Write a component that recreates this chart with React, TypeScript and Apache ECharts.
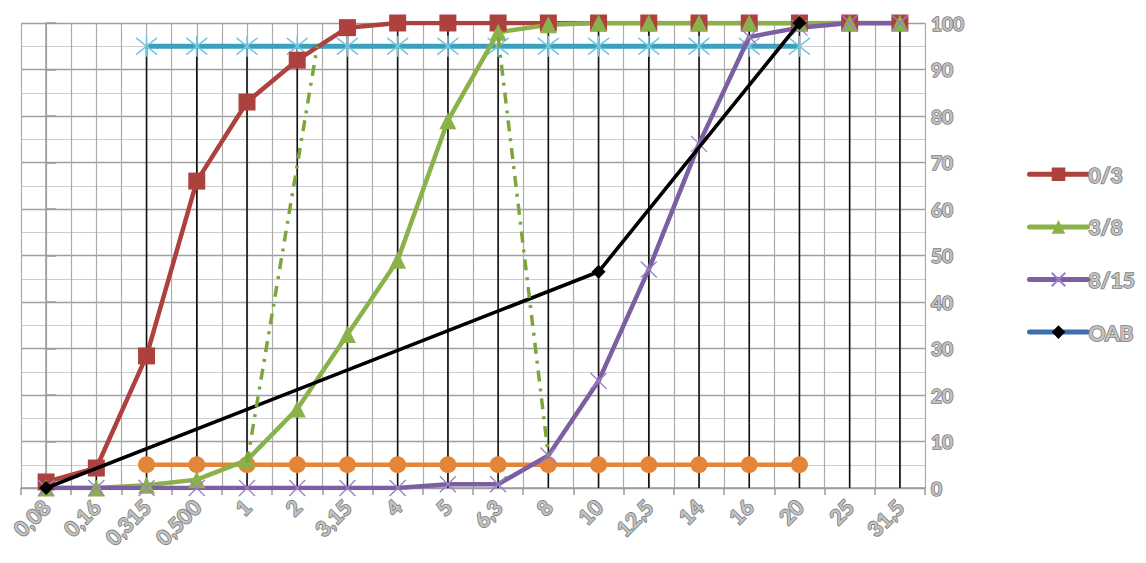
import React, { useEffect, useRef } from 'react';
import * as echarts from 'echarts';

const categories = ['0,08', '0,16', '0,315', '0,500', '1', '2', '3,15', '4', '5', '6,3', '8', '10', '12,5', '14', '16', '20', '25', '31,5'];
const s03 = [1.3, 4.3, 28.4, 66, 83, 92, 99, 100, 100, 100, 100, 100, 100, 100, 100, 100, 100, 100];
const s38 = [0, 0, 0.6, 1.8, 6, 17, 33, 49, 79, 98, 99.6, 100, 100, 100, 100, 100, 100, 100];
const s815 = [0, 0, 0, 0, 0, 0, 0, 0, 0.8, 0.8, 7, 23, 47, 74, 97, 99, 100, 100];
const oab = [0, null, null, null, null, null, null, null, null, null, null, 46.5, null, null, null, 100, null, null];
const upper95 = [null, null, 95, 95, 95, 95, 95, 95, 95, 95, 95, 95, 95, 95, 95, 95, null, null];
const lower5 = [null, null, 5, 5, 5, 5, 5, 5, 5, 5, 5, 5, 5, 5, 5, 5, null, null];
const envA = [[4, 5.5], [5.4, 95]];
const envB = [[9, 97], [10, 7]];

const FONT = 'Lato, "Open Sans", sans-serif';
const txt = {
  color: '#c2c2c2',
  textBorderColor: '#7a7a7a',
  textBorderWidth: 1.6,
  fontFamily: FONT,
  fontWeight: 'bold' as const,
};

export default function App() {
  const ref = useRef<HTMLDivElement>(null);
  useEffect(() => {
    if (!ref.current) return;
    const chart = echarts.init(ref.current, null, { renderer: 'svg' });
    const seriesMax = categories.map((_, i) => {
      const vals = [s03[i], s38[i], s815[i], oab[i], upper95[i], lower5[i]].filter((v) => v != null) as number[];
      return Math.max(...vals);
    });
    const xSym = 'path://M0,0L20,20M20,0L0,20';
    const starSym = 'path://M0,2L20,18M20,2L0,18M10,0L10,20';
    chart.setOption({
      animation: false,
      grid: { left: 21, top: 23, width: 904, height: 465, containLabel: false },
      legend: {
        orient: 'vertical',
        left: 1022,
        top: 158,
        itemWidth: 58,
        itemHeight: 17,
        itemGap: 30,
        lineStyle: { width: 5, cap: 'round' },
        textStyle: { ...txt, fontSize: 21, padding: [0, 0, 0, -4] },
        data: [
          { name: '0/3' },
          { name: '3/8' },
          { name: '8/15' },
          { name: 'OAB', itemStyle: { color: '#000000' }, lineStyle: { color: '#3d6fb0', width: 5 } },
        ],
      },
      xAxis: [
        {
          type: 'category',
          data: categories,
          boundaryGap: true,
          axisLine: { lineStyle: { color: '#9a9a9a', width: 1.5 } },
          axisTick: { show: true, length: 7, lineStyle: { color: '#9a9a9a', width: 1.5 } },
          axisLabel: { ...txt, fontSize: 21, rotate: 45, margin: 15, interval: 0 },
          splitLine: { show: false },
        },
        {
          type: 'value',
          position: 'top',
          min: -0.5,
          max: 17.5,
          interval: 0.5,
          axisLine: { show: false },
          axisTick: { show: false },
          axisLabel: { show: false },
          splitLine: { show: true, lineStyle: { color: '#ababab', width: 1.2 } },
        },
      ],
      yAxis: {
        type: 'value',
        position: 'right',
        min: 0,
        max: 100,
        interval: 10,
        axisLine: { show: true, lineStyle: { color: '#9a9a9a', width: 1.5 } },
        axisTick: { show: true, length: 10, lineStyle: { color: '#9a9a9a', width: 1.5 } },
        axisLabel: { ...txt, fontSize: 19, margin: 6 },
        splitLine: { show: true, lineStyle: { color: '#9f9f9f', width: 1.3 } },
        minorTick: { show: false, splitNumber: 2 },
        minorSplitLine: { show: true, lineStyle: { color: '#cdcdcd', width: 1.2 } },
      },
      series: [
        {
          name: 'drop',
          type: 'bar',
          data: seriesMax,
          barWidth: 1.6,
          itemStyle: { color: '#111111' },
          silent: true,
          z: 1,
        },
        {
          name: 'lower5',
          type: 'line',
          data: lower5,
          symbol: 'circle',
          symbolSize: 17,
          lineStyle: { color: '#e4863a', width: 4.5 },
          itemStyle: { color: '#e4863a' },
          z: 2,
        },
        {
          name: 'upper95',
          type: 'line',
          data: upper95,
          symbol: starSym,
          symbolSize: 21,
          lineStyle: { color: '#3aa0bd', width: 5 },
          itemStyle: { color: 'rgba(0,0,0,0)', borderColor: '#74c6dc', borderWidth: 1.5 },
          z: 2,
        },
        {
          name: '0/3',
          type: 'line',
          data: s03,
          symbol: 'rect',
          symbolSize: 17,
          lineStyle: { color: '#ad413e', width: 4.5 },
          itemStyle: { color: '#ad413e' },
          z: 3,
        },
        {
          name: '3/8',
          type: 'line',
          data: s38,
          symbol: 'triangle',
          symbolSize: 17,
          lineStyle: { color: '#8bb24a', width: 4.5 },
          itemStyle: { color: '#8bb24a' },
          z: 3,
        },
        {
          name: '8/15',
          type: 'line',
          data: s815,
          symbol: xSym,
          symbolSize: 16,
          lineStyle: { color: '#7c5ea2', width: 4.5 },
          itemStyle: { color: 'rgba(0,0,0,0)', borderColor: '#9a80c4', borderWidth: 1.3 },
          z: 3,
        },
        {
          name: 'OAB',
          type: 'line',
          data: oab,
          connectNulls: true,
          symbol: 'diamond',
          symbolSize: 14,
          lineStyle: { color: '#000000', width: 3.6 },
          itemStyle: { color: '#000000' },
          z: 4,
        },
        {
          name: 'envA',
          type: 'line',
          xAxisIndex: 1,
          data: envA,
          symbol: 'none',
          lineStyle: { color: '#7ea53c', width: 3.5, type: [11, 7, 3, 7] },
          z: 4,
        },
        {
          name: 'envB',
          type: 'line',
          xAxisIndex: 1,
          data: envB,
          symbol: 'none',
          lineStyle: { color: '#7ea53c', width: 3.5, type: [11, 7, 3, 7] },
          z: 4,
        },
      ],
    });
    return () => chart.dispose();
  }, []);
  return <div ref={ref} style={{ position: 'absolute', left: 0, top: 0, width: 1146, height: 563 }} />;
}
